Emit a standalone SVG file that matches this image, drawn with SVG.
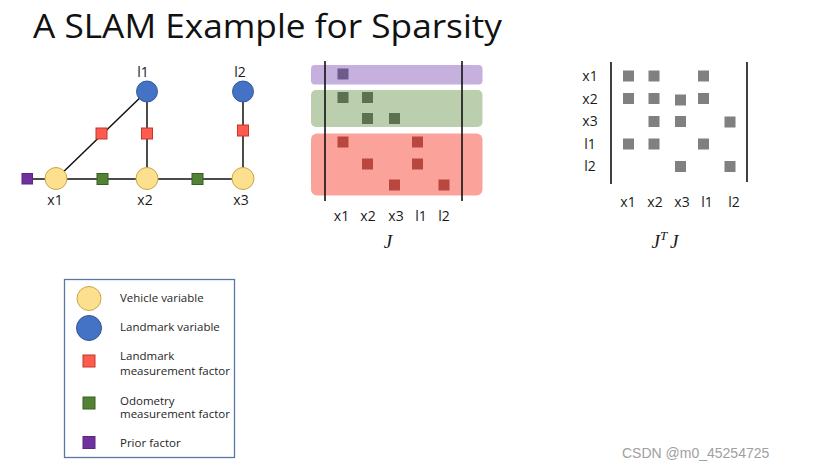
<svg xmlns="http://www.w3.org/2000/svg" width="814" height="472" viewBox="0 0 814 472">
<style>
text{font-family:"Open Sans","Liberation Sans",sans-serif;fill:#1a1a1a}
.lbl{font-size:14px;text-anchor:middle}
.leg{font-size:11.5px;fill:#262626}
.veh{fill:#fde08f;stroke:#c9a648;stroke-width:1}
.lm{fill:#4472c4;stroke:#2f5597;stroke-width:1}
.lf{fill:#ff5b4f;stroke:#c0392b;stroke-width:1}
.of{fill:#548235;stroke:#3b5e25;stroke-width:1}
.pf{fill:#7030a0;stroke:#5a2680;stroke-width:1}
.edge{stroke:#111;stroke-width:1.5;fill:none}
.bar{stroke:#111;stroke-width:1.6}
.jp{fill:#6f5a8c}
.jg{fill:#5d7152}
.jr{fill:#b9463f}
.g{fill:#808080}
.math{font-family:"Liberation Serif","DejaVu Serif",serif;font-style:italic;font-size:19px;text-anchor:middle}
</style>
<rect width="814" height="472" fill="#ffffff"/>
<text x="33" y="38" font-size="33" textLength="469" lengthAdjust="spacingAndGlyphs" style="fill:#111">A SLAM Example for Sparsity</text>

<g id="connectors">
<line class="edge" x1="27" y1="179" x2="243" y2="179"/>
<line class="edge" x1="56" y1="179" x2="147" y2="91"/>
<line class="edge" x1="147" y1="91" x2="147" y2="179"/>
<line class="edge" x1="243" y1="91" x2="243" y2="179"/>
</g>

<g id="f_prior"><rect class="pf" x="22" y="173.5" width="10.5" height="10.5"/></g>
<g id="f_odo1"><rect class="of" x="97" y="173.5" width="11" height="11"/></g>
<g id="f_odo2"><rect class="of" x="192" y="173.5" width="11" height="11"/></g>
<g id="f_lm1"><rect class="lf" x="96" y="128" width="11" height="11"/></g>
<g id="f_lm2"><rect class="lf" x="141.5" y="128" width="11" height="11"/></g>
<g id="f_lm3"><rect class="lf" x="237.5" y="125" width="11" height="11"/></g>

<g id="l1"><circle class="lm" cx="147" cy="91.5" r="10.5"/><text class="lbl" x="143" y="77">l1</text></g>
<g id="l2"><circle class="lm" cx="243" cy="91.5" r="10.5"/><text class="lbl" x="240" y="77">l2</text></g>
<g id="x1"><circle class="veh" cx="56" cy="178.5" r="11"/><text class="lbl" x="55" y="205">x1</text></g>
<g id="x2"><circle class="veh" cx="147" cy="178.5" r="11"/><text class="lbl" x="145" y="205">x2</text></g>
<g id="x3"><circle class="veh" cx="243" cy="178.5" r="11"/><text class="lbl" x="241" y="205">x3</text></g>

<g id="J">
<rect x="311" y="65" width="171.5" height="19.5" rx="4" fill="#c6b1de"/>
<rect x="311" y="90" width="171.5" height="37" rx="5" fill="#bbcfae"/>
<rect x="311" y="133.5" width="171.5" height="62" rx="6" fill="#fba39b"/>
<rect class="jp" x="337.5" y="68.5" width="11" height="11"/>
<rect class="jg" x="337.5" y="92" width="11" height="11"/>
<rect class="jg" x="362" y="92" width="11" height="11"/>
<rect class="jg" x="362" y="113" width="11" height="11"/>
<rect class="jg" x="389" y="113" width="11" height="11"/>
<rect class="jr" x="337.5" y="136.5" width="11" height="11"/>
<rect class="jr" x="412" y="136.5" width="11" height="11"/>
<rect class="jr" x="362" y="158.5" width="11" height="11"/>
<rect class="jr" x="412" y="158.5" width="11" height="11"/>
<rect class="jr" x="389" y="179.5" width="11" height="11"/>
<rect class="jr" x="438.5" y="179.5" width="11" height="11"/>
<line class="bar" x1="325" y1="61" x2="325" y2="201"/>
<line class="bar" x1="462" y1="61" x2="462" y2="201"/>
<text class="lbl" x="341.5" y="221">x1</text>
<text class="lbl" x="368" y="221">x2</text>
<text class="lbl" x="396" y="221">x3</text>
<text class="lbl" x="421" y="221">l1</text>
<text class="lbl" x="444" y="221">l2</text>
<text class="math" x="388" y="248">J</text>
</g>

<g id="JTJ">
<line class="bar" x1="611" y1="62" x2="611" y2="184"/>
<line class="bar" x1="747" y1="62" x2="747" y2="182"/>
<text class="lbl" x="590" y="81">x1</text>
<text class="lbl" x="590" y="104">x2</text>
<text class="lbl" x="590" y="126">x3</text>
<text class="lbl" x="590" y="149">l1</text>
<text class="lbl" x="590" y="171">l2</text>
<rect class="g" x="623" y="70.5" width="11" height="11"/>
<rect class="g" x="648.5" y="70.5" width="11" height="11"/>
<rect class="g" x="698" y="70.5" width="11" height="11"/>
<rect class="g" x="623" y="93" width="11" height="11"/>
<rect class="g" x="648.5" y="93" width="11" height="11"/>
<rect class="g" x="675" y="94.5" width="11" height="11"/>
<rect class="g" x="698" y="93" width="11" height="11"/>
<rect class="g" x="648.5" y="116" width="11" height="11"/>
<rect class="g" x="675" y="116" width="11" height="11"/>
<rect class="g" x="724.5" y="116.5" width="11" height="11"/>
<rect class="g" x="623" y="138.5" width="11" height="11"/>
<rect class="g" x="648.5" y="138.5" width="11" height="11"/>
<rect class="g" x="698" y="138.5" width="11" height="11"/>
<rect class="g" x="675" y="161" width="11" height="11"/>
<rect class="g" x="724.5" y="161" width="11" height="11"/>
<text class="lbl" x="628" y="207">x1</text>
<text class="lbl" x="655" y="207">x2</text>
<text class="lbl" x="682" y="207">x3</text>
<text class="lbl" x="707" y="207">l1</text>
<text class="lbl" x="734" y="207">l2</text>
<text class="math" x="665" y="248">J<tspan dy="-8" font-size="13">T</tspan><tspan dy="8" dx="3">J</tspan></text>
</g>

<g id="legend">
<rect x="64.5" y="279.5" width="170" height="178" fill="#fff" stroke="#5a76a6" stroke-width="1.3"/>
<circle class="veh" cx="89" cy="298.5" r="12"/>
<circle class="lm" cx="89" cy="328" r="12.5"/>
<rect class="lf" x="83" y="355" width="12" height="12"/>
<rect class="of" x="83" y="397" width="12" height="12"/>
<rect class="pf" x="83" y="436.5" width="12" height="12"/>
<text class="leg" x="120" y="301.5">Vehicle variable</text>
<text class="leg" x="120" y="331">Landmark variable</text>
<text class="leg" x="120" y="360">Landmark</text>
<text class="leg" x="120" y="375">measurement factor</text>
<text class="leg" x="120" y="404.5">Odometry</text>
<text class="leg" x="120" y="418">measurement factor</text>
<text class="leg" x="120" y="447">Prior factor</text>
</g>

<text x="622" y="458" font-size="14" style="fill:#a0a0a0;font-family:'Liberation Sans',sans-serif">CSDN @m0_45254725</text>
</svg>
